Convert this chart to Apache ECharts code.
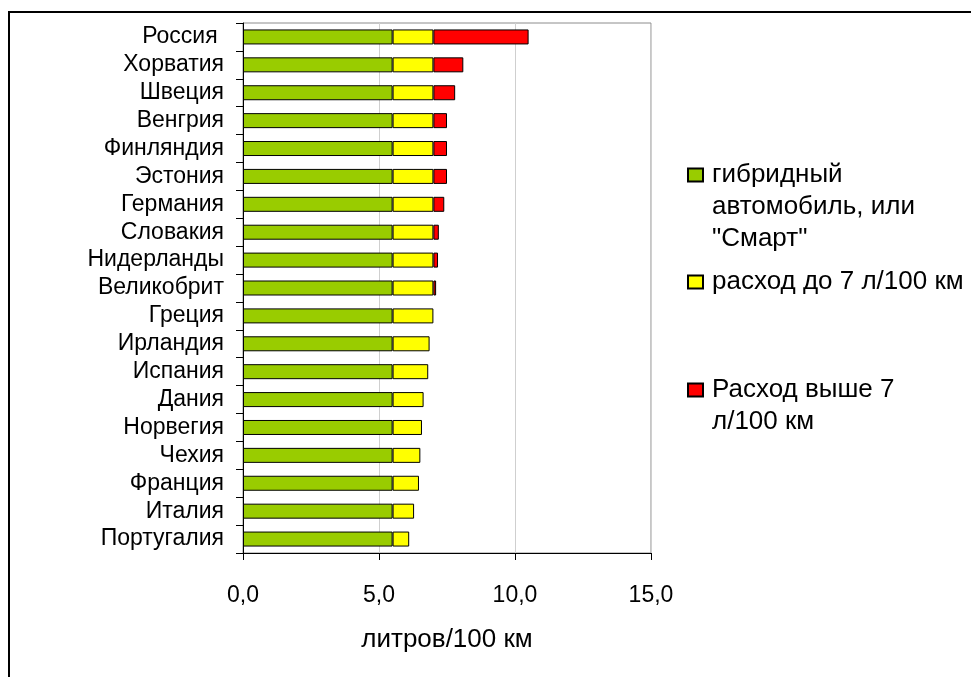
<!DOCTYPE html>
<html>
<head>
<meta charset="utf-8">
<script src="https://cdn.jsdelivr.net/npm/echarts@6/dist/echarts.min.js"></script>
<style>
html,body{margin:0;padding:0;background:#fff;}
#chart{width:971px;height:677px;}
</style>
</head>
<body>
<div id="chart"></div>
<script>
const countries = ['Россия ', 'Хорватия', 'Швеция', 'Венгрия', 'Финляндия', 'Эстония', 'Германия', 'Словакия', 'Нидерланды', 'Великобрит', 'Греция', 'Ирландия', 'Испания', 'Дания', 'Норвегия', 'Чехия', 'Франция', 'Италия', 'Португалия'];
const hybridValues = [5.5, 5.5, 5.5, 5.5, 5.5, 5.5, 5.5, 5.5, 5.5, 5.5, 5.5, 5.5, 5.5, 5.5, 5.5, 5.5, 5.5, 5.5, 5.5];
const upTo7Values = [1.5, 1.5, 1.5, 1.5, 1.5, 1.5, 1.5, 1.5, 1.5, 1.5, 1.5, 1.36, 1.31, 1.14, 1.08, 1.02, 0.97, 0.79, 0.61];
const above7Values = [3.5, 1.1, 0.8, 0.5, 0.5, 0.5, 0.4, 0.2, 0.17, 0.1, '-', '-', '-', '-', '-', '-', '-', '-', '-'];
const xTicks = [0, 5, 10, 15];
const seriesNames = ['гибридный автомобиль, или "Смарт"', 'расход до 7 л/100 км', 'Расход выше 7 л/100 км'];
const legendLines = [
  ['гибридный', 'автомобиль, или', '"Смарт"'],
  ['расход до 7 л/100 км'],
  ['Расход выше 7', 'л/100 км']
];
const axisName = 'литров/100 км';

const FONT = '"Liberation Sans", Arial, sans-serif';
const LH = 32;
const chart = echarts.init(document.getElementById('chart'));

function legendFor(idx, iconMid) {
  const lines = legendLines[idx];
  const blanks = lines.length - 1;
  const total = (lines.length + blanks) * LH;
  const parts = [];
  for (let i = 0; i < blanks; i++) parts.push('{t| }');
  lines.forEach(function (l) { parts.push('{t|' + l + '}'); });
  const text = parts.join('\n');
  return {
    data: [seriesNames[idx]],
    orient: 'vertical',
    left: 687,
    top: iconMid - total / 2,
    padding: 0,
    itemWidth: 15,
    itemHeight: 13,
    itemGap: 0,
    icon: 'rect',
    selectedMode: false,
    formatter: function () { return text; },
    textStyle: {
      fontFamily: FONT,
      fontSize: 26,
      color: '#000',
      lineHeight: LH,
      rich: {
        t: { fontFamily: FONT, fontSize: 26, color: '#000', lineHeight: LH, padding: [0, 0, 0, 4] }
      }
    }
  };
}

const barStyle = function (color) {
  return { color: color, borderColor: '#000', borderWidth: 1 };
};

chart.setOption({
  animation: false,
  backgroundColor: '#fff',
  graphic: [{
    type: 'rect',
    shape: { x: 9, y: 12, width: 1100, height: 800 },
    style: { fill: 'none', stroke: '#000', lineWidth: 2 },
    silent: true
  }],
  grid: {
    left: 243, right: 320, top: 23, bottom: 124,
    show: true, borderColor: '#8c8c8c', borderWidth: 1,
    containLabel: false
  },
  legend: [
    legendFor(0, 175),
    legendFor(1, 282),
    legendFor(2, 390)
  ],
  xAxis: {
    type: 'value',
    min: xTicks[0],
    max: xTicks[xTicks.length - 1],
    interval: xTicks[1] - xTicks[0],
    name: axisName,
    nameLocation: 'middle',
    nameGap: 74,
    nameTextStyle: { fontFamily: FONT, fontSize: 26, color: '#000' },
    axisLine: { show: true, lineStyle: { color: '#000', width: 1 } },
    axisTick: { show: true, length: 7, inside: false, lineStyle: { color: '#000' } },
    axisLabel: {
      fontFamily: FONT, fontSize: 23, color: '#000', margin: 31,
      formatter: function (v) { return v.toFixed(1).replace('.', ','); }
    },
    splitLine: { show: true, lineStyle: { color: '#cfcfcf', width: 1 } }
  },
  yAxis: {
    type: 'category',
    inverse: true,
    data: countries,
    axisLine: { show: true, lineStyle: { color: '#000', width: 1 } },
    axisTick: { show: true, length: 7, inside: false, alignWithLabel: false, lineStyle: { color: '#000' } },
    axisLabel: { fontFamily: FONT, fontSize: 23, color: '#000', margin: 19, interval: 0 },
    splitLine: { show: false }
  },
  series: [
    { name: seriesNames[0], type: 'bar', stack: 'total', data: hybridValues, barWidth: 15, itemStyle: barStyle('#99CC00') },
    { name: seriesNames[1], type: 'bar', stack: 'total', data: upTo7Values, barWidth: 15, itemStyle: barStyle('#FFFF00') },
    { name: seriesNames[2], type: 'bar', stack: 'total', data: above7Values, barWidth: 15, itemStyle: barStyle('#FF0000') }
  ]
});
</script>
</body>
</html>
